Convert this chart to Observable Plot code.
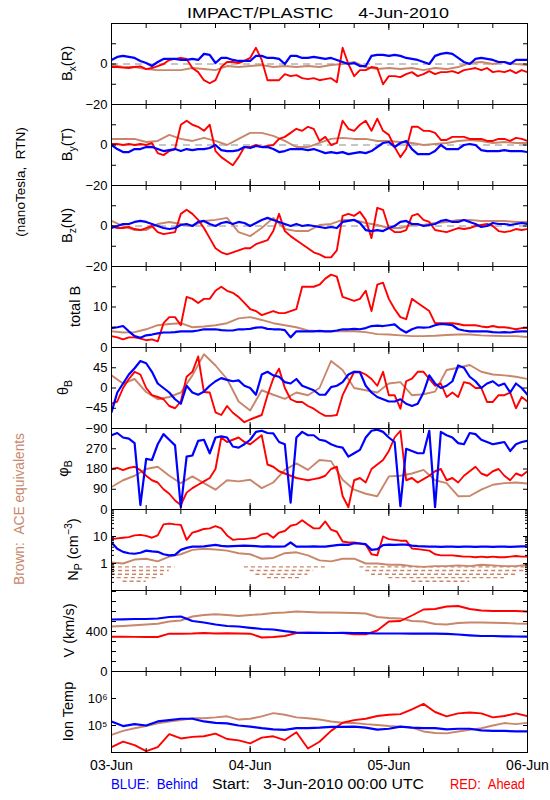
<!DOCTYPE html>
<html><head><meta charset="utf-8">
<script src="https://cdn.jsdelivr.net/npm/d3@7"></script>
<script src="https://cdn.jsdelivr.net/npm/@observablehq/plot@0.6"></script>
<style>
body{margin:0;background:#fff;}
#chart{position:relative;width:550px;height:800px;background:#fff;overflow:hidden;font-family:"Liberation Sans",Arial,sans-serif;}
#chart > div{position:absolute;left:0;}
</style></head>
<body><div id="chart"></div>
<script>
// ---- data (hour 0 = 3-Jun-2010 00:00 UTC); hourly arrays: 73 values, 2-hourly arrays: 37 values ----
const bxBlue = [2,3.5,4,3.5,3,1.5,0.5,-1,1,2.5, 2.5,2.5,2,2,2.5,2,5,4.5,0.5,3, 3,2,1.5,1.5,1.5,4,4,3,3,2.5, 0,4,4, 3,3,3.5,3,2.5,3,2,1,0,0.5, -1,-1,4,4.5,4.5,4,4.5,4,3,2.5, 2,1,0,4,5,5.5,5,3,1,0, 2.5,3,2.5,2,1,1,0,2,2,2];
const bxRed = [-1.5,-1.5,-1.8,-2,-1.5,-1.2,-2.5,-2,-1,0, 2,2.5,3,2.5,-2,-4,-8,-9.5,-8,-1.5, 1,1,0.5,1.5,3,8,2,-8,-8,-8, -5,-6,-5.5,-7, -7.5,-7,-8,-7.5,-7,-9,8,0,-6,-3, -3,-1.5,-2,-10,-6,-6,-6.5,-5,-4,-6, -5,-3.5,-5,-4,-4,-3.5,-4.5,-3,-2.5,-2, -3,-2,-4,-3.5,-4,-3,-4.5,-3,-4];
const bxBrown = [-0.5,-1.5,-1.5,-2.5,-3,-3,-3,-2,-2.5,-3, -1,-1.5,-1,-0.5,-1.5,-1,-1.5,-1,-1.5,-0.5, 0,1,-1.5,-2.5,-2,-2.5,-2,-3,-2,-2.5, -1.5,0.5,1,0,1,0,-0.5];

const byBlue = [0,-2,-3.5,-3.5,-2,-2,-1,-1,-2,-3, -2.5,-2,-3,-2,-2.5,-2,-2,-1.5,0,-2.5, -3,-3,-2.5,-1,-1.5,-0.5,-1,-1,-2,-3.5, -3,-2,-2,-2,-2.5,-2,-3,-4,-3.5,-4, -3.5,-4.5,-4,-3.5,-4,-3,-1,1,1.5,-1, 1,2,-2,-4.5,-4.5,-4.5,-3,0,-2,-2, -2,0,0.5,0,-2.5,-3,-3,-3,-2.5,-3, -3,-3,-3.5];
const byRed = [0.5,0.5,0,0.5,0,0.5,0,1,-4,-5, -3,-2,10,12,10,9,7,10,-3,-6, -8,-10,-6,-1,-1,0,-1,-0.5,0,3, 4,6,8,7, 9,8,2,4,0,1,12,8,7,10, 12,7,13,7,5,-1,-6,-2,9,9, 7,7,6,2.5,2.5,4,4,4,3,3, 3,2,2,3,3,2,3.5,3,2];
const byBrown = [3,3,3,1.5,2,5,3,2,3.5,2, 0,3,6,6,4.5,2,-1,-1,1,3, 3.5,3,3,2,2,1.5,1,0,0.5,1, 2,2.5,2,1,1.5,1,1];

const bzBlue = [-1,0,1,1,2,2.5,2,1,0,-1, -1.5,-1,0.5,1,0,2,2.5,1,0,1.5, 2,1,2,1.5,0,1.5,3,4,3,2, 1,0,1,0, 0.5,0,-0.5,-1,-0.5,-1,2,2.5,3,1.5, -2,-2.5,-2,-2.5,-1,0,2,2.5,1,1, 0,0.5,1,2.5,3,2,2,3,2,1, -0.5,0,1.5,1,1,0.5,1,1.5,1];
const bzRed = [0,-1,-1,-0.5,-1.5,-2,-1,0,-3,-4, -3.5,-3,6,8,6,3,-1,-6,-11,-13, -14,-13,-12,-11,-11,-9,-8,-7,-2.5,6, -2.5,-5,-7,-9, -11,-13,-14,-15.5,-15.5,-12,5,6,5,7, 3,-6,9,8,-1,-3,-3,-2,5,6, 3,2,-2,-2.5,-3,-2,-1,-1.5,-1,0, 0.5,1,0,-2.5,-3,-2.5,-1.5,-2,-1.5];
const bzBrown = [2.5,0,-2,-2,1,2,1,0,2.5,3, 4,-3,-5,-1,4,-1.5,-2.5,-2.5,0.5,1, 3,3,1.5,0.5,-1,-1,0.5,0.5,1.5,2, 3,3,2.5,2.5,2.5,2,2];

const btBlue = [4.8,5,5.3,4,2.8,2.4,3,3.2,3.5,3.7, 3.7,3.8,4,4,4,4.2,4.5,4.5,4.5,4.3, 4.2,4.2,4.5,4.5,4.6,4.9,5,4.6,4.5,4.5, 4.3,2.5,4,4, 4,4,4.1,4,4,4.2,4.5,4.5,4.6,4.5, 4.8,5.3,5.4,5.3,5.5,5.7,4.5,3.7,4.5,5, 4.9,5,5.5,5.8,5.7,5.5,4.5,4.2,4,4, 4,4,3.8,3.7,3.8,3.7,3.9,4,4];
const btRed = [2.8,2.5,2,2.5,2.5,2.2,1.8,2,1.5,6, 7.5,7.5,5.5,12.5,12,11,12,12,14,15, 14,13.5,12.5,11,9.5,9,8,8.5,9,8.5, 8.5,9,9.5,15, 15,15,15.5,17,18,17.5,12.5,12,11.5,12, 14,9,15.5,16,12,9.5,7.5,7,12,11, 10,9,6,6,6,6,5.8,5.5,5.5,5.5, 5.2,5,5.3,5,5,4.8,4.5,4.8,4.8];
const btBrown = [4,3.7,3.8,4.5,5.5,5.8,6,5,5.2,5.5, 6,7.2,7.5,6.8,6,5.5,5,4.2,4,4, 4,4,3.8,3.3,3.2,3,2.8,2.8,2.9,3.1, 3.2,3.2,3,2.9,2.8,2.8,2.6];

const thBlue = [-54,-10,10,30,44,60,55,36,10,0, -10,-25,-35,5,-10,-15,-8,5,15,22, 18,15,17,5,0,-15,30,36,28,25, 13,10,20, 5,0,-5,-15,-15,2,5,13,30,36, 35,5,-10,-20,-25,-30,-30,-25,-35,-40, -35,-10,28,10,0,5,15,50,45,25, 15,0,10,15,5,10,-10,10,0,-15];
const thRed = [-35,-30,0,20,36,30,0,-16,-20,-25, -40,-45,-30,25,36,70,-9,-10,-54,-60, -40,-55,-65,-76,-70,-65,-60,-16,21,43, 0,-25,-31,-31, -40,-46,-55,-62,-62,-60,-16,10,36,36, 30,20,5,36,-16,-16,-46,15,21,36, 36,20,5,10,-20,-10,-20,13,10,0, 0,-31,-31,-16,-16,-10,-45,-20,-30];
const thBrown = [28,10,20,-9,-25,-20,-10,28,75,50, 20,-30,-50,-5,-15,-24,-10,-16,0,60, 40,0,-5,-10,10,13,-16,-14,-8,40, 45,51,36,30,28,25,20];

const phBlue = [330,340,320,315,295,20,225,220,290,335, 310,285,10,235,240,305,310,250,320,325, 320,280,275,290,310,345,350,340,338,300, 290,30,320,345, 330,330,310,305,290,280,275,235,250,265, 320,350,355,345,320,300,15,270,260,250, 250,350,10,345,330,320,295,290,340,335, 310,300,290,295,300,260,290,300,305];
const phRed = [180,185,175,185,190,175,150,130,120,90, 70,40,20,75,95,110,125,140,180,320, 300,310,320,300,290,310,330,200,190,170, 160,150,140,135, 130,135,140,150,180,190,60,10,130,140, 120,180,200,220,260,320,350,130,140,120, 135,150,170,180,130,140,120,150,170,190, 160,150,170,180,150,130,160,150,170];
const phBrown = [100,130,150,180,190,150,117,147,117,88, 130,125,132,95,120,176,205,176,220,215, 132,88,70,59,147,150,160,176,130,117, 59,60,88,110,117,120,115];

const npBlue = [6,3.5,2.7,2.4,2.3,2.5,3,2.8,2.7,2.2, 2,2.1,3.2,3.8,4.2,4.2,4.3,4.6,4.9,4.5, 4.3,4.4,4.5,4.6,4.5,4.4,4.2,4.3,4.2,4.2, 4.3,6,4.2,4.2, 4.2,4.3,4.2,4.2,4.5,4.8,5,4.9,5.6,5.5, 5.2,3.2,3.4,4.8,5,4.9,5,5,4.6,4.4, 4.3,4.2,4.2,4.1,4.2,4.2,4.1,4.2,4.2,4.1, 4.2,4.2,4.1,4.2,4.2,4.1,4.2,4.3,4.3];
const npRed = [8,8.5,9,9.5,11,11.5,10.5,9,11,28, 30,28,27,7.5,14,16,19,20,24,20, 11,7.5,8,8,8.5,9,12,13,9,14, 16,25,28,40, 28,20,20,36,18,15,6.5,6,6,5.5, 5,2.2,2,10,8,7.5,7,7,3.6,3.4, 3.2,3,2.2,2,2,2,1.9,1.8,1.8,1.7, 1.8,1.7,1.8,1.7,1.7,1.8,1.9,1.8,1.8];
const npBrown = [1.1,1.0,1.4,1.5,1.2,1.8,2.2,3.2,3.5,3.3, 3.0,2.4,2.2,1.5,1.6,2.4,2.6,2,1.3,1.2, 1.5,1.5,1.0,1.0,0.9,0.9,0.8,0.75,0.8,0.8, 0.85,0.8,0.9,0.85,0.8,0.8,0.9];
// low-count ACE density streaks: [start hour, end hour, level]
const npBrownLow = [[0,11,0.75],[0,10,0.55],[0,9,0.4],[1,8,0.3],[2,6,0.22],
  [23,37,0.75],[24,35,0.55],[25,34,0.4],[27,33,0.3],
  [43,72,0.75],[44,72,0.55],[45,70,0.4],[48,68,0.3],[52,62,0.22]];

const vBlue = [520,522,525,525,530,545,550,505,490,470, 455,450,437,425,420,403,390,386,386,385, 386,385,384,380,380,380,378,378,378,376, 370,362,355,355,352,350,348];
const vRed = [348,347,346,345,345,378,378,380,385,380, 382,380,378,340,345,355,385,388,386,385, 385,372,372,410,500,505,560,620,625,650, 655,625,610,605,605,605,600];
const vBrown = [450,455,462,470,478,500,510,550,565,572, 565,555,565,572,585,590,600,595,590,590, 588,585,580,545,535,530,505,500,475,470, 485,490,490,488,485,480,478];

const tBlueLog = [5.15,4.98,5.05,5.0,5.15,5.2,5.25,5.25,5.15,5.1, 5.08,5.0,4.96,4.9,4.86,4.84,4.9,4.9,4.92,4.95, 4.95,4.96,4.92,4.85,4.88,4.96,4.92,4.9,4.9,4.86, 4.88,4.88,4.82,4.8,4.8,4.78,4.78];
const tRedLog = [4.2,4.4,4.27,4.05,4.2,4.68,4.52,4.58,4.6,4.7, 4.5,4.45,4.34,4.55,4.6,4.46,4.75,4.15,4.4,4.8, 5.1,5.2,5.25,5.35,5.4,5.42,5.6,5.8,5.5,5.34, 5.45,5.48,5.45,5.3,5.35,5.45,5.35];
const tBrownLog = [4.65,4.8,4.9,4.98,5.08,5.15,5.2,5.27,5.27,5.3, 5.34,5.22,5.25,5.34,5.46,5.4,5.3,5.27,5.22,5.15, 5.1,5.09,5.05,5.02,4.98,4.96,4.92,4.78,4.72,4.71, 4.78,4.84,4.9,5.0,5.09,5.05,5.1];

// ---- setup ----
const BLUE = "#0000ff", RED = "#ff0000", BROWN = "#c8876b";
const FONT = '"Liberation Sans", Arial, sans-serif';
const T0 = Date.UTC(2010, 5, 3), HOUR = 3600e3;
const tAt = h => new Date(T0 + h * HOUR);
const ser = (vals, step) => vals.map((v, i) => ({t: tAt(i * step), v}));
const ser2 = (vals) => vals.map((v, i) => ({t: tAt(i * 2), v: Math.pow(10, v)}));
const xDomain = [tAt(0), tAt(72)];
const sixHours = d3.utcHour.every(6).range(tAt(0), tAt(72.01));
const days = d3.utcDay.every(1).range(tAt(0), tAt(72.01));

const TOP = 23, PH = 81;
const panels = [
  {domain:[-20,20], ticks:[-20,-10,0,10,20], labels:[-20,0], zero:true, blue:ser(bxBlue,1), red:ser(bxRed,1), brown:ser(bxBrown,2)},
  {domain:[-20,20], ticks:[-20,-10,0,10,20], labels:[-20,0], zero:true, blue:ser(byBlue,1), red:ser(byRed,1), brown:ser(byBrown,2)},
  {domain:[-20,20], ticks:[-20,-10,0,10,20], labels:[-20,0], zero:true, blue:ser(bzBlue,1), red:ser(bzRed,1), brown:ser(bzBrown,2)},
  {domain:[0,20], ticks:[0,5,10,15,20], labels:[0,10], blue:ser(btBlue,1), red:ser(btRed,1), brown:ser(btBrown,2)},
  {domain:[-90,90], ticks:[-90,-45,0,45,90], labels:[-90,-45,0,45], blue:ser(thBlue,1), red:ser(thRed,1), brown:ser(thBrown,2)},
  {domain:[0,360], ticks:[0,90,180,270,360], labels:[0,90,180,270], blue:ser(phBlue,1), red:ser(phRed,1), brown:ser(phBrown,2)},
  {domain:[0.1,100], type:"log", ticks:[0.1,1,10,100], minor:[2,3,4,5,6,7,8,9].flatMap(k=>[k*0.1,k,k*10]), labels:[1,10], blue:ser(npBlue,1), red:ser(npRed,1), brown:ser(npBrown,2), low:true},
  {domain:[0,810], ticks:[0,100,200,300,400,500,600,700,800], labels:[0,400], blue:ser(vBlue,2), red:ser(vRed,2), brown:ser(vBrown,2)},
  {domain:[1e4,1e7], type:"log", ticks:[1e5,1e6], labels:[1e5,1e6], fmt:d => d === 1e5 ? "10⁵" : "10⁶", blue:ser2(tBlueLog), red:ser2(tRedLog), brown:ser2(tBrownLog)}
];

const chart = document.getElementById("chart");
panels.forEach((p, i) => {
  const last = i === panels.length - 1;
  const mb = last ? 32 : 0;
  const marks = [];
  if (p.zero) marks.push(Plot.ruleY([0], {stroke:"#8c8c8c", strokeDasharray:"7,5"}));
  if (p.low) marks.push(Plot.ruleY(npBrownLow, {y:d=>d[2], x1:d=>tAt(d[0]), x2:d=>tAt(d[1]), stroke:BROWN, strokeWidth:1.3, strokeDasharray:"4,3"}));
  marks.push(Plot.line(p.brown, {x:"t", y:"v", stroke:BROWN, strokeWidth:1.9, clip:true}));
  marks.push(Plot.line(p.red, {x:"t", y:"v", stroke:RED, strokeWidth:1.9, clip:true}));
  marks.push(Plot.line(p.blue, {x:"t", y:"v", stroke:BLUE, strokeWidth:2.2, clip:true}));
  const noText = () => "";
  marks.push(Plot.axisY({anchor:"left", ticks:p.labels, tickSize:0, tickPadding:4, tickFormat:p.fmt || (d => d3.format("")(d).replace("-", "−")), label:null, fontSize:13}));
  marks.push(Plot.axisY({anchor:"left", ticks:p.ticks, tickSize:-5, tickFormat:noText, label:null}));
  marks.push(Plot.axisY({anchor:"right", ticks:p.ticks, tickSize:-5, tickFormat:noText, label:null}));
  if (p.minor) {
    marks.push(Plot.axisY({anchor:"left", ticks:p.minor, tickSize:-3, tickFormat:noText, label:null}));
    marks.push(Plot.axisY({anchor:"right", ticks:p.minor, tickSize:-3, tickFormat:noText, label:null}));
  }
  marks.push(Plot.axisX({anchor:"top", ticks:sixHours, tickSize:-4, tickFormat:noText, label:null}));
  marks.push(Plot.axisX({anchor:"bottom", ticks:sixHours, tickSize:-4, tickFormat:noText, label:null}));
  marks.push(Plot.axisX({anchor:"top", ticks:days, tickSize:-6, tickFormat:noText, label:null}));
  marks.push(Plot.axisX({anchor:"bottom", ticks:days, tickSize:-6, tickFormat:noText, label:null}));
  if (last) marks.push(Plot.axisX({anchor:"bottom", ticks:days, tickSize:0, tickPadding:8, tickFormat:d3.utcFormat("%d-%b"), label:null, fontSize:14}));
  marks.push(Plot.frame({stroke:"black"}));
  const svg = Plot.plot({
    width:550, height:PH + mb, marginLeft:111, marginRight:23, marginTop:0, marginBottom:mb,
    x:{type:"utc", domain:xDomain, label:null},
    y:{type:p.type || "linear", domain:p.domain, label:null},
    style:{fontFamily:FONT, fontSize:"13px", overflow:"visible", background:"transparent", color:"black"},
    marks
  });
  const wrap = document.createElement("div");
  wrap.style.top = (TOP + PH * i) + "px";
  wrap.appendChild(svg);
  chart.appendChild(wrap);
});

// ---- overlay texts ----
const ov = d3.select(chart).append("svg").attr("width",550).attr("height",800)
  .style("position","absolute").style("left",0).style("top",0).style("pointer-events","none")
  .style("font-family", FONT);

function richText(g, parts, size) {
  const t = g.append("text").attr("font-size", size).attr("text-anchor","middle");
  let shift = 0;
  parts.forEach(([s, mode]) => {
    const ts = t.append("tspan").text(s);
    let target = 0;
    if (mode === "sub") { target = 4; ts.attr("font-size", size * 0.72); }
    if (mode === "sup") { target = -6; ts.attr("font-size", size * 0.72); }
    if (target !== shift) { ts.attr("dy", target - shift); shift = target; }
  });
  return t;
}

ov.append("text").attr("x",318).attr("y",18).attr("text-anchor","middle").attr("font-size",15.5)
  .attr("textLength",262).attr("lengthAdjust","spacingAndGlyphs")
  .text("IMPACT/PLASTIC\u00a0\u00a0\u00a0\u00a0\u00a04-Jun-2010");

const yTitles = [
  {parts:[["B"],["x","sub"],["(R)"]], x:72},
  {parts:[["B"],["y","sub"],["(T)"]], x:72},
  {parts:[["B"],["z","sub"],["(N)"]], x:72},
  {parts:[["total B"]], x:80},
  {parts:[["θ"],["B","sub"]], x:68},
  {parts:[["φ"],["B","sub"]], x:68},
  {parts:[["N"],["P","sub"],[" (cm"],["−3","sup"],[")"]], x:78},
  {parts:[["V (km/s)"]], x:74},
  {parts:[["Ion Temp"]], x:73}
];
yTitles.forEach((d, i) => {
  const g = ov.append("g").attr("transform", `translate(${d.x},${TOP + PH * i + PH / 2}) rotate(-90)`);
  richText(g, d.parts, 14.5);
});

ov.append("g").attr("transform","translate(25,182) rotate(-90)")
  .append("text").attr("text-anchor","middle").attr("font-size",13.5).text("(nanoTesla,\u00a0\u00a0RTN)");
ov.append("g").attr("transform","translate(24,509) rotate(-90)")
  .append("text").attr("text-anchor","middle").attr("font-size",14).attr("fill",BROWN)
  .attr("textLength",152).attr("lengthAdjust","spacingAndGlyphs").text("Brown:\u00a0\u00a0ACE equivalents");

ov.append("text").attr("x",111).attr("y",789).attr("font-size",14).attr("fill",BLUE)
  .attr("textLength",87).attr("lengthAdjust","spacingAndGlyphs").text("BLUE:\u00a0\u00a0Behind");
ov.append("text").attr("x",212).attr("y",789).attr("font-size",14).attr("fill","black")
  .attr("textLength",212).attr("lengthAdjust","spacingAndGlyphs").text("Start:\u00a0\u00a0\u00a03-Jun-2010 00:00 UTC");
ov.append("text").attr("x",450).attr("y",789).attr("font-size",14).attr("fill",RED)
  .attr("textLength",75).attr("lengthAdjust","spacingAndGlyphs").text("RED:\u00a0\u00a0Ahead");
</script>
</body></html>
